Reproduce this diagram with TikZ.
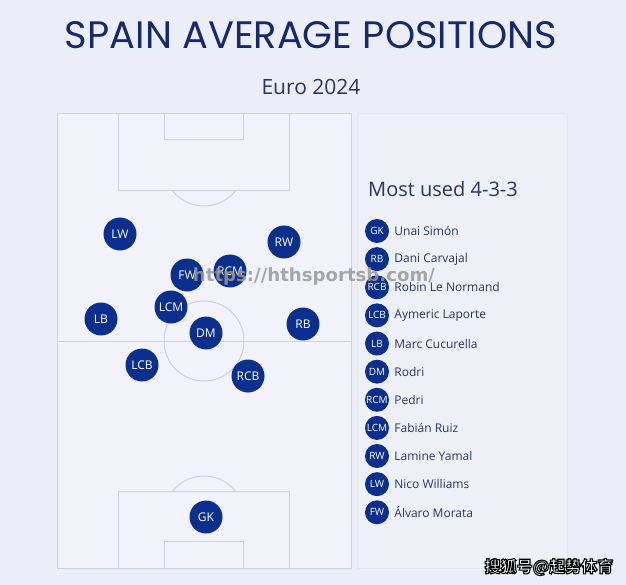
\documentclass[tikz,border=0pt]{standalone}
\usepackage{fontspec}
\setmainfont{Open Sans}
\newfontfamily\titlefont{Poppins}
\newfontfamily\wmfont{DejaVu Sans}
\newfontfamily\cjkfont{Noto Sans CJK SC}
\definecolor{bgcol}{HTML}{ECEEF7}
\definecolor{pitchcol}{HTML}{F2F3FA}
\definecolor{panelcol}{HTML}{EEF0F8}
\definecolor{panelline}{HTML}{E5E7F1}
\definecolor{linecol}{HTML}{CDD1DE}
\definecolor{navy}{HTML}{0B2F8C}
\definecolor{titlecol}{HTML}{14296E}
\definecolor{txtcol}{HTML}{2A3560}
\newcommand{\outlinedtext}[1]{\special{pdf:literal direct q 2 Tr 1.1 w 0 0 0 RG}#1\special{pdf:literal direct Q}}
\begin{document}
\begin{tikzpicture}[x=1pt,y=-1pt,
  pline/.style={draw=linecol,line width=1pt},
  player/.style={circle,fill=navy,text=white,minimum size=33pt,inner sep=0pt,font=\fontsize{12}{12}\selectfont},
  legcirc/.style={circle,fill=navy,text=white,minimum size=24pt,inner sep=0pt,font=\fontsize{10}{10}\selectfont},
  legtext/.style={anchor=west,text=txtcol,inner sep=0pt,font=\fontsize{12}{14}\selectfont}]
\useasboundingbox (0,0) rectangle (626,585);
\fill[bgcol] (0,0) rectangle (626,585);
% titles
\node[anchor=base,text=titlecol,inner sep=0pt] (title) at (311,49) {\resizebox{492pt}{27pt}{\titlefont SPAIN AVERAGE POSITIONS}};
\node[anchor=base,text=txtcol,inner sep=0pt,font=\fontsize{21}{24}\selectfont] (sub) at (311,95) {Euro 2024};
% legend panel
\draw[draw=panelline,fill=panelcol,line width=0.5pt] (357,113) rectangle (567.5,568);
% pitch
\draw[pline,fill=pitchcol] (57,114) rectangle (351,568);
\draw[pline] (57,341) -- (351,341);
\draw[pline] (204,341) circle (40);
\draw[pline] (118,114) rectangle (289,191);
\draw[pline] (164,114) rectangle (243,140);
\draw[pline] (172.8,191) arc[start angle=141.3,end angle=38.7,radius=40];
\draw[pline] (118,568) rectangle (289,491.7);
\draw[pline] (164,568) rectangle (243,541.7);
\draw[pline] (172.2,491.7) arc[start angle=217.4,end angle=322.6,radius=40];
% players
\node[player] (lw) at (120,234) {LW};
\node[player] (rw) at (284,242) {RW};
\node[player] (fw) at (187,275) {FW};
\node[player] (rcm) at (230,271) {RCM};
\node[player] (lcm) at (171,307) {LCM};
\node[player] (lb) at (101,319) {LB};
\node[player] (rb) at (303,324) {RB};
\node[player] (dm) at (206,333) {DM};
\node[player] (lcb) at (142,365) {LCB};
\node[player] (rcb) at (248,376) {RCB};
\node[player] (gk) at (206,517) {GK};
% legend
\node[anchor=base west,text=txtcol,inner sep=0pt,font=\fontsize{20}{24}\selectfont] (most) at (368,197) {Most used 4-3-3};
\foreach \p/\n [count=\i from 0] in {GK/Unai Simón,RB/Dani Carvajal,RCB/Robin Le Normand,LCB/Aymeric Laporte,LB/Marc Cucurella,DM/Rodri,RCM/Pedri,LCM/Fabián Ruiz,RW/Lamine Yamal,LW/Nico Williams,FW/Álvaro Morata}{
  \node[legcirc] (c\i) at (377,231+28.13*\i) {\p};
  \node[legtext] (t\i) at ([xshift=5pt]c\i.east) {\n};
}
% watermarks
\node[text=gray!80!white,opacity=0.85,inner sep=0pt] (wm) at (314,277) {\resizebox{242pt}{!}{\wmfont\bfseries https://hthsportsb.com/}};
\node[text=white,inner sep=0pt,font=\cjkfont\bfseries\fontsize{16}{18}\selectfont] (wm2) at (549,567) {\outlinedtext{搜狐号@起势体育}};
\end{tikzpicture}
\end{document}
